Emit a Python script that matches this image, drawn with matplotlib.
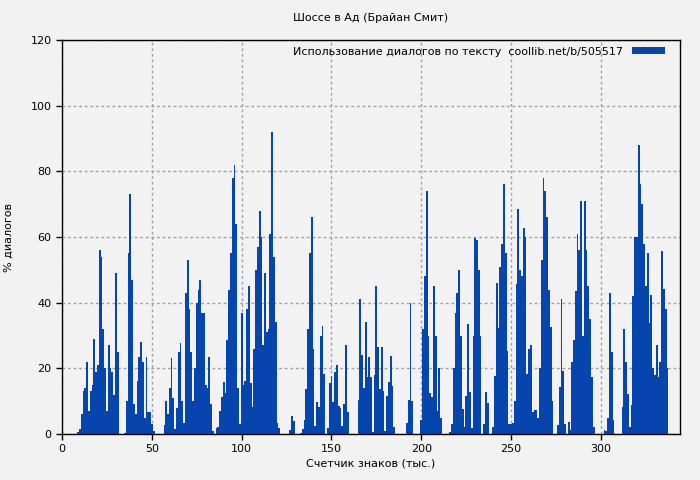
import numpy as np
import matplotlib
matplotlib.use("Agg")
import matplotlib.pyplot as plt

# dialogue share per 1000 characters
start = 9
vals = [
    0.5, 1.5, 6, 13, 14, 22, 7, 13, 15, 29, 19, 21, 56, 54, 32, 20, 7, 27, 20, 19,      # 9-28
    12, 49, 25, 0, 0, 0, 0.4, 10, 55, 73, 47, 9, 6, 16, 23.5, 28, 22, 5, 23.5, 6.7,     # 29-48
    6.8, 3, 1, 0, 0, 0, 0, 0, 2.7, 10, 6, 14, 23, 11, 1.5, 8, 25, 27.6, 10, 3.5,       # 49-68
    43, 53, 38, 25, 10, 20, 40, 44, 47, 37, 37, 15, 14, 23.5, 9, 1, 0, 1.7, 2, 7,      # 69-88
    11.4, 15.7, 12.4, 28.6, 44, 55, 78, 82, 64, 14, 3, 37, 15, 16, 38, 45, 15.6, 8.3, 26, 50,  # 89-108
    57, 68, 60, 27, 49, 31, 32, 61, 92, 54, 34, 3.2, 1.7, 0, 0, 0, 0, 0, 1.2, 5.5,     # 109-128
    4, 0, 0, 0, 0.4, 1.6, 4.3, 13.6, 32, 55, 66, 26, 2.4, 9.8, 8.1, 30, 33, 18.3, 0, 1.7,  # 129-148
    15.4, 17.7, 9.8, 19, 21, 8.5, 7.8, 2.4, 9, 27, 6.7, 0, 0, 0, 0, 0, 10.4, 41, 24, 14,   # 149-168
    34, 17.5, 23.5, 17.5, 0.7, 18, 45, 26.6, 13.6, 26.6, 13.2, 1, 11.6, 15.8, 23.8, 14.6, 2.2, 0, 0, 0,  # 169-188
    0, 0, 0, 3.5, 10.4, 40, 10, 0, 0, 0, 0, 4.3, 31.9, 48, 74, 30, 12.4, 11.4, 45, 30,  # 189-208
    7, 20, 5, 0, 0, 0, 0, 0.6, 3, 20, 37, 43, 50, 30, 7.5, 2, 11.6, 33.5, 12.9, 1.7,   # 209-228
    30, 59.6, 59, 50, 29.8, 0, 3, 12.8, 9.3, 0, 0, 2, 17.7, 46, 32.3, 51, 58, 76, 55, 25.4,  # 229-248
    3, 3, 3.2, 10, 45.7, 68.5, 50, 48, 62.6, 60, 18.3, 26, 27, 6.7, 7.3, 7.3, 5, 20, 53, 78,  # 249-268
    74, 66, 44, 32.7, 10, 0, 0, 2.6, 14.2, 41, 19.3, 3, 0, 3.8, 1.2, 22, 28.6, 43.6, 61, 56,  # 269-288
    71, 30, 71, 56, 45, 35, 17.5, 2, 0, 0, 0, 0, 0, 1.2, 0.8, 5, 43, 25, 4.3, 0,       # 289-308
    0, 0, 0, 8.2, 32, 22, 12.2, 2.2, 8.9, 42, 60, 60, 88, 76, 70, 58, 45, 55, 33.7, 42.4,  # 309-328
    20, 17.9, 27, 17.3, 22, 55.8, 44.2, 38, 20,                                         # 329-337
]
x = np.arange(start, start + len(vals))

title = "Шоссе в Ад (Брайан Смит)"
legend_label = "Использование диалогов по тексту  coollib.net/b/505517"
bar_color = "#0645ad"
bg = "#f2f2f2"

plt.rcParams['font.family'] = ['DejaVu Sans']
plt.rcParams['font.size'] = 8

fig = plt.figure(figsize=(7, 4.8), dpi=100, facecolor=bg)
ax = fig.add_axes([62/700, 1 - 434/480, 618/700, 394/480])
ax.set_facecolor(bg)

ax.bar(x, vals, width=1.0, color=bar_color, linewidth=0, label=legend_label, zorder=2)

ax.set_xlim(0, 344)
ax.set_ylim(0, 120)
ax.set_xticks(np.arange(0, 301, 50))
ax.set_yticks(np.arange(0, 121, 20))
ax.grid(True, color="#a0a0a0", linestyle=(0, (2, 2)), linewidth=1, zorder=0)
ax.set_axisbelow(True)
ax.tick_params(direction="out", length=4, width=1, colors="black", labelsize=8)
for s in ax.spines.values():
    s.set_color("black")
    s.set_linewidth(1)

ax.set_title(title, fontsize=8, pad=14)
ax.set_xlabel("Счетчик знаков (тыс.)", fontsize=8, labelpad=3)
ax.set_ylabel("% диалогов", fontsize=8, labelpad=12)

leg = ax.legend(loc="upper right", bbox_to_anchor=(0.987, 1.0), frameon=False,
                markerfirst=False, fontsize=8, handlelength=3.0, handleheight=0.55,
                borderaxespad=0.2, handletextpad=0.8)

fig.savefig("out.png", dpi=100, facecolor=bg)
